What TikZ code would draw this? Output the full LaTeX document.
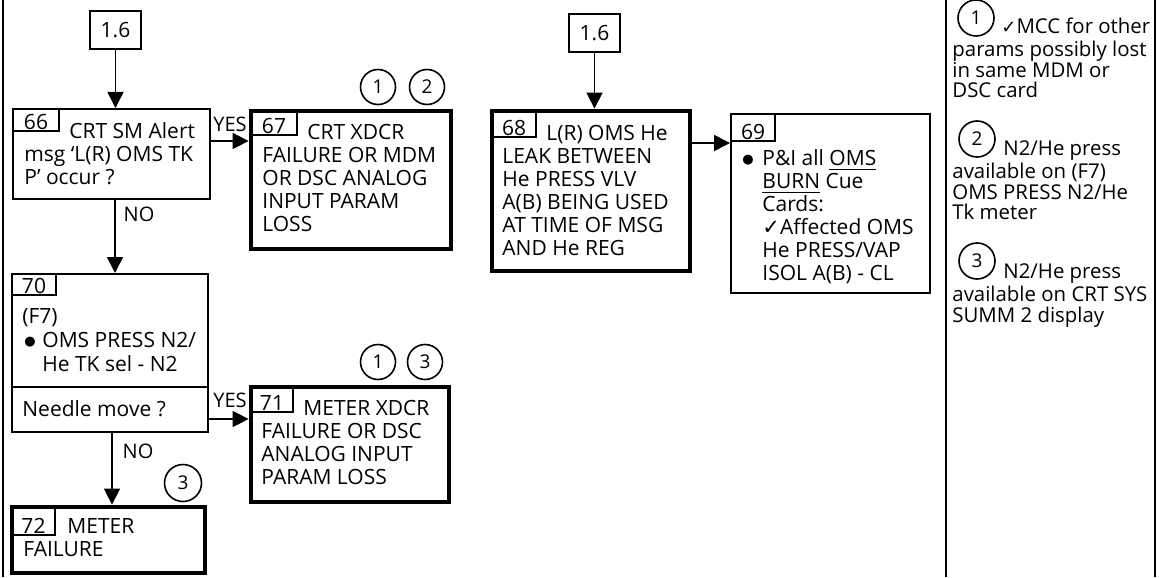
\documentclass[tikz,border=0pt]{standalone}
\usepackage{fontspec}
\setmainfont{Open Sans}
\newfontfamily\sym{DejaVu Sans}
\newcommand{\bul}{\raisebox{1.2pt}{\sym\fontsize{6.5}{7}\selectfont ●}}
\newcommand{\chk}{{\sym\fontsize{9}{9}\selectfont ✓}}
\usetikzlibrary{arrows.meta,fit}
\begin{document}
\begin{tikzpicture}[x=0.5pt,y=-0.5pt,
  thinbox/.style={draw, line width=1pt, inner sep=0pt},
  thickbox/.style={draw, line width=2.4pt, inner sep=0pt},
  tabbox/.style={draw, line width=0.7pt, inner sep=0pt},
  num/.style={inner sep=0pt, anchor=base, font=\fontsize{10.5}{11.5}\selectfont},
  cnum/.style={inner sep=0pt, font=\fontsize{10.5}{11.5}\selectfont},
  txt/.style={inner sep=0pt, anchor=north west, align=left, font=\fontsize{10.5}{11.5}\selectfont},
  ptxt/.style={inner sep=0pt, anchor=north west, align=left, font=\fontsize{10.2}{10.2}\selectfont},
  circ/.style={draw, circle, line width=0.8pt, minimum size=17.5pt, inner sep=0pt, font=\fontsize{9.5}{10}\selectfont},
  lbl/.style={inner sep=0pt, font=\fontsize{10}{11}\selectfont},
  arr/.style={line width=0.8pt, -{Triangle[length=8pt,width=8pt]}},
  rulestyle/.style={line width=1pt},
]
\useasboundingbox (0,0) rectangle (1159,577);

% frame lines
\draw[rulestyle] (3,0) -- (3,577);
\draw[rulestyle] (946,0) -- (946,577);
\draw[rulestyle] (1155,0) -- (1155,577);

% helper coordinates
\coordinate (ya) at (0,141);
\coordinate (yb) at (0,143);
\coordinate (yc) at (0,419);
\coordinate (dv) at (0,387);
\coordinate (xa) at (115,0);
\coordinate (xb) at (112,0);

% boxes
\node[thinbox, fit={(90,11)(141,49)}] (b16a) {};
\node[thinbox, fit={(569,14)(620,52)}] (b16b) {};
\node[cnum] (l16a) at (b16a.center) {1.6};
\node[cnum] (l16b) at (b16b.center) {1.6};
\node[thinbox, fit={(13,109)(210,199)}] (b66) {};
\node[thickbox, fit={(251,111)(451,249)}] (b67) {};
\node[thickbox, fit={(492,111)(690,271)}] (b68) {};
\node[thinbox, fit={(731,114)(930,293)}] (b69) {};
\node[thinbox, fit={(12,274)(208,432)}] (b70) {};
\node[thickbox, fit={(251,387)(449,502)}] (b71) {};
\node[thickbox, fit={(12,507)(205,573)}] (b72) {};

% tabs
\node[tabbox, fit={(13,109)(59,131)}] (t66) {};
\node[tabbox, fit={(251,111)(297,135)}] (t67) {};
\node[tabbox, fit={(492,111)(536,137)}] (t68) {};
\node[tabbox, fit={(731,114)(775,141)}] (t69) {};
\node[tabbox, fit={(12,274)(56,295)}] (t70) {};
\node[tabbox, fit={(251,387)(293,412)}] (t71) {};
\node[tabbox, fit={(12,507)(55,535)}] (t72) {};
\node[num] (n66) at ([yshift=1.2pt]t66.south) {66};
\node[num] (n67) at ([yshift=1.2pt]t67.south) {67};
\node[num] (n68) at ([yshift=1.2pt]t68.south) {68};
\node[num] (n69) at ([yshift=1.2pt]t69.south) {69};
\node[num] (n70) at ([yshift=1.2pt]t70.south) {70};
\node[num] (n71) at ([yshift=1.2pt]t71.south) {71};
\node[num] (n72) at ([yshift=1.2pt]t72.south) {72};

% divider in 70
\draw[line width=1pt] (b70.west |- dv) -- (b70.east |- dv);

% box texts
\node[txt] (x66) at (24,122.4) {\strut\hspace*{22.5pt}CRT SM Alert\\msg ‘L(R) OMS TK\\P’ occur ?};
\node[txt] (x67) at (262,123.4) {\strut\hspace*{22.5pt}CRT XDCR\\FAILURE OR MDM\\OR DSC ANALOG\\INPUT PARAM\\LOSS};
\node[txt] (x68) at (502,124.4) {\strut\hspace*{22pt}L(R) OMS He\\LEAK BETWEEN\\He PRESS VLV\\A(B) BEING USED\\AT TIME OF MSG\\AND He REG};
\node[txt] (x69) at (742,149.4) {\strut\makebox[10pt][l]{\bul}P\&I all \underline{OMS}\\\hspace*{10pt}\underline{BURN} Cue\\\hspace*{10pt}Cards:\\\hspace*{10pt}{\sym ✓}Affected OMS\\\hspace*{10pt}He PRESS/VAP\\\hspace*{10pt}ISOL A(B) - CL};
\node[txt, font=\fontsize{10.5}{12}\selectfont] (x70) at (22,306.7) {\strut(F7)\\\makebox[10pt][l]{\hspace{1pt}\bul}OMS PRESS N2/\\\hspace*{10pt}He TK sel - N2};
\node[txt] (x70b) at (22,400.4) {\strut Needle move ?};
\node[txt] (x71) at (261,399.4) {\strut\hspace*{21pt}METER XDCR\\FAILURE OR DSC\\ANALOG INPUT\\PARAM LOSS};
\node[txt] (x72) at (23,517.4) {\strut\hspace*{22pt}METER\\FAILURE};

% note circles
\node[circ] (c67a) at (378,87) {1};
\node[circ] (c67b) at (427,87) {2};
\node[circ] (c71a) at (378,362) {1};
\node[circ] (c71b) at (425,362) {3};
\node[circ, minimum size=18.5pt] (c72) at (183,483) {3};

% labels
\node[lbl] (yes1) at (230,124) {YES};
\node[lbl] (no1) at (139,214) {NO};
\node[lbl] (yes2) at (230,400) {YES};
\node[lbl] (no2) at (138,451) {NO};

% connectors
\draw[arr] (b16a.south) -- (b16a.south |- b66.north);
\draw[arr] (b66.east |- ya) -- (b67.west |- ya);
\draw[arr] (b66.south -| xa) -- (b70.north -| xa);
\draw[arr] (b70.east |- yc) -- (b71.west |- yc);
\draw[arr] (b70.south -| xb) -- (b72.north -| xb);
\draw[arr] (b16b.south) -- (b16b.south |- b68.north);
\draw[arr] (b68.east |- yb) -- (b69.west |- yb);

% notes panel
\node[circ, minimum size=18pt] (cp1) at (976,18) {1};
\node[circ, minimum size=18pt] (cp2) at (977,139) {2};
\node[circ, minimum size=18pt] (cp3) at (977,261) {3};
\node[ptxt] (p1) at (952,17) {\strut\hspace*{24.5pt}\chk MCC for other\\params possibly lost\\in same MDM or\\DSC card};
\node[ptxt] (p2) at (952,140) {\strut\hspace*{25.5pt}N2/He press\\available on (F7)\\OMS PRESS N2/He\\Tk meter};
\node[ptxt] (p3) at (952,263) {\strut\hspace*{25.5pt}N2/He press\\available on CRT SYS\\SUMM 2 display};
\end{tikzpicture}
\end{document}
